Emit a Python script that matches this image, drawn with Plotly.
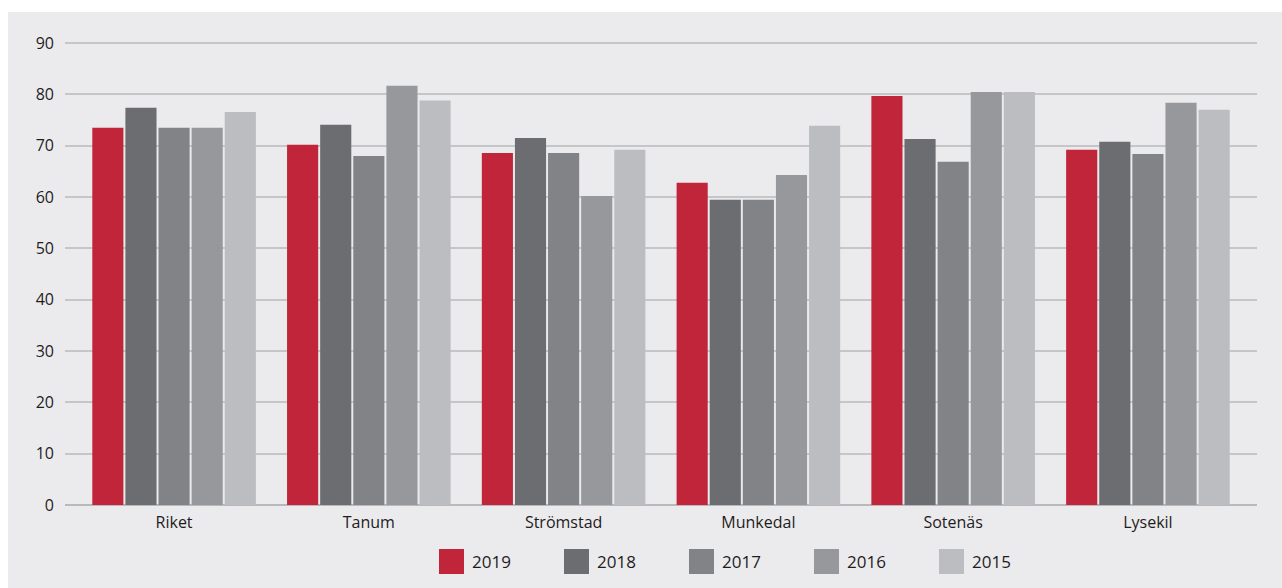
"""Grouped bar chart: share per municipality, 2015-2019."""

import plotly.graph_objects as go

MUNICIPALITIES = ["Riket", "Tanum", "Strömstad", "Munkedal", "Sotenäs", "Lysekil"]
YEARS = ["2019", "2018", "2017", "2016", "2015"]
VALUES = {
    "2019": [73.5, 70.2, 68.6, 62.8, 79.7, 69.2],
    "2018": [77.4, 74.1, 71.5, 59.5, 71.3, 70.8],
    "2017": [73.5, 68.0, 68.6, 59.5, 66.9, 68.4],
    "2016": [73.5, 81.7, 60.2, 64.3, 80.5, 78.4],
    "2015": [76.6, 78.8, 69.2, 73.9, 80.5, 77.0],
}
Y_TICKS = list(range(0, 100, 10))

COLORS = {
    "2019": "#c0253a",
    "2018": "#6c6d71",
    "2017": "#828387",
    "2016": "#97989c",
    "2015": "#bcbdc1",
}
PANEL = "#ebebed"
GRID = "#c6c6c8"
INK = "#1f1c1d"
FONT_FAMILY = '"Open Sans", "Noto Sans", sans-serif'

WIDTH, HEIGHT = 1282, 588
M_L, M_R, M_T, M_B = 65, 25, 38, 83
PLOT_W = WIDTH - M_L - M_R
PLOT_H = HEIGHT - M_T - M_B


def px_x(px):
    return (px - M_L) / PLOT_W


def px_y(py):
    return (HEIGHT - M_B - py) / PLOT_H


fig = go.Figure()
for year in YEARS:
    fig.add_trace(
        go.Bar(
            name=year,
            x=MUNICIPALITIES,
            y=VALUES[year],
            marker=dict(color=COLORS[year], line=dict(width=0)),
            showlegend=False,
        )
    )

# grey panel behind everything
shapes = [
    dict(
        type="rect", xref="paper", yref="paper", layer="below",
        x0=px_x(8), x1=px_x(WIDTH + 5), y0=px_y(HEIGHT + 5), y1=px_y(12),
        fillcolor=PANEL, line=dict(width=0),
    )
]
annotations = []
# legend: swatch + label per year (large squares, so drawn by hand)
for i, year in enumerate(YEARS):
    left = 439 + i * 125
    shapes.append(
        dict(
            type="rect", xref="paper", yref="paper",
            x0=px_x(left), x1=px_x(left + 25), y0=px_y(574), y1=px_y(549),
            fillcolor=COLORS[year], line=dict(width=0),
        )
    )
    annotations.append(
        dict(
            text=year, xref="paper", yref="paper", showarrow=False,
            x=px_x(left + 31), y=px_y(561.5), xanchor="left", yanchor="middle",
            font=dict(size=17, color=INK),
        )
    )

fig.update_layout(
    barmode="group",
    bargap=0.15,
    bargroupgap=0.06,
    width=WIDTH,
    height=HEIGHT,
    margin=dict(l=M_L, r=M_R, t=M_T, b=M_B, pad=0),
    paper_bgcolor="white",
    plot_bgcolor="rgba(0,0,0,0)",
    font=dict(family=FONT_FAMILY, size=16, color=INK),
    shapes=shapes,
    annotations=annotations,
    showlegend=False,
)
fig.update_xaxes(
    range=[-0.56, 5.56],
    showgrid=False,
    zeroline=False,
    showline=False,
    ticks="",
    ticklabelstandoff=6,
    tickfont=dict(size=16, color=INK),
)
fig.update_yaxes(
    range=[0, 91],
    tickvals=Y_TICKS,
    showgrid=True,
    gridcolor=GRID,
    gridwidth=1.5,
    zeroline=True,
    zerolinecolor="#b9b9bc",
    zerolinewidth=2,
    showline=False,
    ticks="",
    ticklabelstandoff=10,
    tickfont=dict(size=16, color=INK),
)

fig.write_html(
    "out.html",
    config={"displayModeBar": False},
    post_script="document.body.style.margin = '0';",
)
